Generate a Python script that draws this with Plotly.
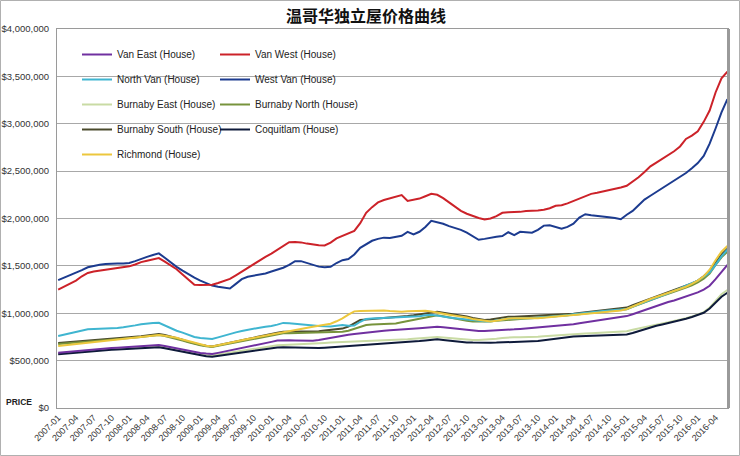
import plotly.graph_objects as go

# Months 2007-01 .. 2016-06
months = [f"{2007 + i // 12}-{i % 12 + 1:02d}" for i in range(114)]
tick_labels = months[::3]

# Prices in thousands of dollars
van_east = [584,590,595,600,606,612,618,623,628,632,636,640,645,650,655,660,663,665,655,642,
            628,614,600,588,580,574,570,582,594,606,618,630,642,655,668,682,698,712,717,715,
            713,711,710,710,718,730,742,755,765,772,780,788,796,803,810,816,820,823,828,833,
            838,843,848,853,858,852,845,838,830,822,815,812,812,814,817,821,825,830,835,840,
            845,850,856,862,868,872,876,885,894,903,912,921,930,940,950,960,970,990,1012,1032,
            1052,1075,1098,1118,1135,1155,1172,1195,1220,1250,1290,1360,1440,1510]
van_west = [1250,1280,1310,1345,1390,1425,1440,1450,1460,1470,1478,1488,1495,1515,1540,1555,1570,1582,1545,1505,
            1465,1410,1350,1300,1298,1300,1302,1320,1340,1362,1400,1440,1480,1520,1555,1595,1630,1670,1715,1750,
            1752,1748,1735,1725,1718,1715,1745,1790,1815,1840,1870,1950,2060,2120,2170,2195,2210,2230,2248,2185,
            2195,2210,2235,2260,2250,2215,2170,2120,2080,2050,2025,2005,1990,2000,2025,2060,2065,2065,2070,2078,
            2080,2085,2092,2108,2135,2140,2160,2185,2210,2240,2260,2272,2285,2298,2315,2328,2345,2390,2435,2490,
            2550,2590,2630,2675,2710,2760,2840,2875,2920,3020,3140,3330,3480,3550]
north_van = [760,775,790,805,820,830,833,835,838,840,845,852,860,872,885,895,898,900,870,840,
             815,795,770,750,738,732,728,745,765,785,798,812,826,840,848,858,865,880,898,895,
             888,880,875,870,866,862,860,868,875,868,870,910,940,945,948,950,948,952,958,962,
             960,968,978,985,975,962,955,948,940,935,930,922,915,912,925,938,945,945,950,948,
             948,952,958,965,970,975,980,990,998,1005,1012,1018,1024,1030,1035,1040,1045,1070,1095,1118,
             1140,1165,1188,1210,1232,1262,1292,1318,1345,1385,1430,1510,1600,1670]
west_van = [1350,1375,1400,1425,1455,1485,1500,1512,1520,1525,1526,1524,1530,1550,1575,1595,1615,1632,1585,1535,
            1490,1450,1410,1375,1345,1315,1292,1280,1268,1262,1310,1360,1385,1395,1405,1420,1440,1458,1480,1510,
            1550,1550,1530,1510,1492,1485,1490,1530,1560,1572,1620,1690,1730,1765,1785,1798,1795,1808,1818,1858,
            1832,1860,1910,1975,1960,1945,1920,1900,1880,1850,1815,1775,1785,1800,1808,1815,1855,1825,1860,1855,
            1850,1880,1925,1928,1910,1892,1912,1945,2010,2045,2035,2025,2018,2012,2005,1992,2040,2080,2140,2200,
            2240,2280,2320,2360,2400,2448,2480,2530,2585,2660,2790,2950,3120,3260]
burnaby_east = [575,581,587,593,599,605,611,616,621,626,630,634,638,642,646,650,653,655,645,633,
                620,606,592,578,568,560,555,565,575,585,595,605,615,625,635,645,655,662,666,668,
                670,672,675,678,682,686,690,694,698,700,702,704,706,708,710,712,714,717,721,726,
                731,736,741,746,750,744,738,732,726,721,718,717,720,725,732,740,746,746,746,746,
                747,752,757,762,767,771,775,778,781,785,788,791,794,798,802,806,810,825,840,855,
                868,880,893,905,918,932,948,965,985,1012,1060,1130,1200,1245]
burnaby_north = [675,680,685,690,695,700,705,710,714,718,722,727,733,740,748,756,764,770,760,746,
                 730,712,694,676,662,652,645,656,668,680,692,705,718,730,743,756,768,780,788,790,
                 792,794,796,798,800,802,804,805,805,815,835,860,876,880,884,888,891,893,905,918,
                 930,945,958,970,980,968,955,942,930,920,913,911,912,915,920,925,928,932,936,940,
                 945,950,955,960,965,970,975,982,990,998,1005,1012,1018,1025,1030,1035,1042,1068,1092,1118,
                 1145,1165,1185,1205,1225,1248,1270,1295,1325,1365,1420,1510,1590,1650]
burnaby_south = [685,690,695,700,706,711,716,720,724,728,732,736,742,750,758,766,774,780,770,755,
                 738,720,700,682,668,656,650,662,676,690,702,715,728,742,755,768,782,795,805,806,
                 805,804,805,806,810,818,826,832,838,860,895,928,935,940,944,946,950,955,962,970,
                 978,988,998,1008,1016,1005,995,988,980,965,950,938,928,935,945,955,962,962,965,968,
                 970,972,975,978,982,985,988,995,1002,1010,1018,1025,1032,1040,1046,1052,1060,1085,1108,1130,
                 1155,1178,1198,1220,1242,1265,1290,1315,1345,1390,1450,1540,1620,1680]
coquitlam = [566,572,578,584,590,596,601,606,610,614,618,622,626,630,634,637,639,640,630,618,
             605,592,578,565,555,546,541,550,560,570,580,590,600,610,618,626,633,638,640,638,
             636,634,632,630,632,636,640,645,650,655,660,665,668,671,674,677,680,683,688,694,
             700,706,712,718,725,718,710,703,697,692,690,688,688,689,690,692,694,696,698,700,
             702,708,716,725,735,745,752,755,758,760,762,764,765,767,768,770,775,792,812,835,
             855,868,882,895,910,925,942,960,980,1005,1050,1110,1175,1216]
richmond = [655,662,670,677,684,690,697,704,710,716,722,728,735,742,750,758,765,770,762,752,
            742,722,705,688,672,658,648,660,675,690,702,715,728,740,752,765,778,792,805,818,
            830,840,850,858,868,880,890,915,945,985,1020,1025,1028,1032,1034,1030,1024,1018,1016,1020,
            1024,1026,1026,1018,1005,995,985,975,968,955,940,930,922,912,920,935,945,948,946,944,
            946,948,952,958,963,968,975,982,988,994,1000,1006,1012,1018,1024,1030,1045,1072,1100,1125,
            1150,1172,1192,1212,1235,1258,1280,1310,1345,1390,1460,1560,1650,1710]

series_names = ["Van East (House)", "Van West (House)", "North Van (House)", "West Van (House)",
                "Burnaby East (House)", "Burnaby North (House)", "Burnaby South (House)",
                "Coquitlam (House)", "Richmond (House)"]
series_values = [van_east, van_west, north_van, west_van, burnaby_east, burnaby_north,
                 burnaby_south, coquitlam, richmond]
series_colors = ["#7030a0", "#cc2229", "#3fb5d0", "#1c3b8f", "#c9dba4", "#77933c",
                 "#4a4a2c", "#0e1a3a", "#ecc73d"]
legend_col = ["legend", "legend2", "legend", "legend2", "legend", "legend2", "legend",
              "legend2", "legend"]
draw_order = [4, 7, 0, 6, 5, 2, 8, 3, 1]

fig = go.Figure()
for k in range(len(series_names)):
    fig.add_trace(go.Scatter(
        x=months, y=[v * 1000 for v in series_values[k]], mode="lines",
        name=series_names[k], line=dict(color=series_colors[k], width=2),
        legend=legend_col[k], legendgroup=series_names[k], legendrank=k,
    ))
# reorder drawing so the red/blue lines sit on top
fig.data = tuple(fig.data[i] for i in draw_order)

W, H = 740, 456
L, R, T, B = 57, 12, 29, 48
pw, ph = W - L - R, H - T - B

def px(xp):
    return (xp - L) / pw

def py(yp):
    return (H - B - yp) / ph

font_fam = "Liberation Sans, Arial, sans-serif"
legend_style = dict(font=dict(family=font_fam, size=10, color="#222"),
                    bgcolor="rgba(0,0,0,0)", tracegroupgap=6, itemwidth=30,
                    traceorder="grouped", xanchor="left", yanchor="top")

fig.update_layout(
    width=W, height=H,
    margin=dict(l=L, r=R, t=T, b=B),
    paper_bgcolor="white", plot_bgcolor="white",
    title=dict(text="<b>温哥华独立屋价格曲线</b>", x=366 / W, xanchor="center",
               y=1 - 16 / H, yanchor="middle",
               font=dict(family="Noto Sans CJK SC", size=16, color="#111")),
    legend=dict(x=px(77), y=py(40), **legend_style),
    legend2=dict(x=px(215), y=py(40), **legend_style),
    xaxis=dict(type="category", categoryorder="array", categoryarray=months,
               tickmode="array", tickvals=tick_labels, ticktext=tick_labels,
               tickangle=-45, range=[-0.2, 113.1],
               tickfont=dict(family=font_fam, size=9, color="#333"),
               showgrid=False, showline=True, linecolor="#9a9a9a", linewidth=1,
               mirror=True, ticks="", automargin=False),
    yaxis=dict(range=[0, 4000000], dtick=500000, tickprefix="$", tickformat=",d",
               tickfont=dict(family=font_fam, size=9.5, color="#333"),
               ticklabelstandoff=5,
               showgrid=True, gridcolor="#a8a8a8", gridwidth=1,
               showline=True, linecolor="#9a9a9a", linewidth=1, mirror=True,
               zeroline=False, ticks="", automargin=False),
    showlegend=True,
)

fig.add_annotation(text="<b>PRICE</b>", xref="paper", yref="paper",
                   x=px(34), y=py(402), xanchor="right", yanchor="middle",
                   showarrow=False, font=dict(family=font_fam, size=8.5, color="#222"))
# plot-area right-edge shadow and outer chart border
fig.add_shape(type="line", xref="paper", yref="paper", x0=px(728.5), x1=px(728.5),
              y0=py(408), y1=py(29), line=dict(color="#9a9a9a", width=3))
fig.add_shape(type="rect", xref="paper", yref="paper", x0=px(0.5), x1=px(739.5),
              y0=py(455.5), y1=py(0.5), line=dict(color="#b0b0b0", width=1))

fig.write_html("out.html")
